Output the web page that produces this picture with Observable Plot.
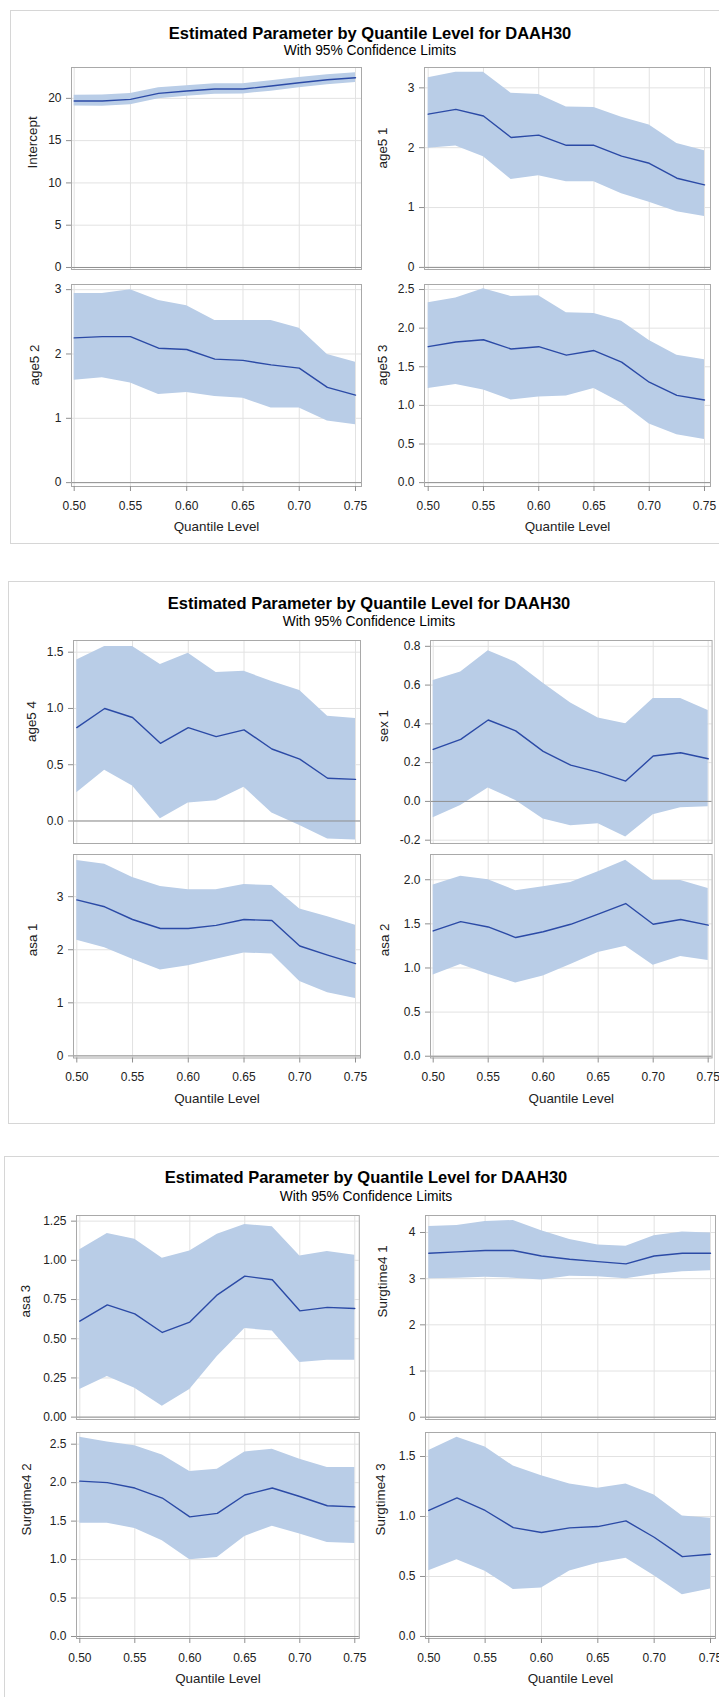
<!DOCTYPE html>
<html>
<head>
<meta charset="utf-8">
<script src="https://cdn.jsdelivr.net/npm/d3@7"></script>
<script src="https://cdn.jsdelivr.net/npm/@observablehq/plot@0.6"></script>
<style>
  html, body { margin: 0; padding: 0; background: #fff; }
  #page { position: relative; width: 719px; height: 1697px; overflow: hidden; background: #fff;
          font-family: "Liberation Sans", Arial, sans-serif; }
  .panel { position: absolute; }
</style>
</head>
<body>
<div id="page"></div>
<script>
// ---------------- data ----------------
const quantiles = [0.5, 0.525, 0.55, 0.575, 0.6, 0.625, 0.65, 0.675, 0.7, 0.725, 0.75];
const xTickValues = [0.5, 0.55, 0.6, 0.65, 0.7, 0.75];

const interceptEst = [19.69, 19.69, 19.88, 20.59, 20.87, 21.10, 21.10, 21.46, 21.85, 22.20, 22.44];
const interceptLow = [19.09, 19.08, 19.25, 19.95, 20.25, 20.50, 20.52, 20.85, 21.25, 21.62, 21.88];
const interceptHigh = [20.38, 20.40, 20.58, 21.25, 21.50, 21.72, 21.72, 22.08, 22.46, 22.80, 23.02];

const age51Est = [2.56, 2.64, 2.53, 2.17, 2.21, 2.04, 2.04, 1.86, 1.74, 1.49, 1.38];
const age51Low = [1.99, 2.03, 1.85, 1.47, 1.53, 1.43, 1.43, 1.23, 1.09, 0.93, 0.85];
const age51High = [3.17, 3.26, 3.26, 2.91, 2.89, 2.68, 2.67, 2.51, 2.38, 2.07, 1.95];

const age52Est = [2.25, 2.27, 2.27, 2.09, 2.07, 1.92, 1.90, 1.83, 1.78, 1.48, 1.36];
const age52Low = [1.59, 1.63, 1.55, 1.37, 1.40, 1.34, 1.31, 1.16, 1.16, 0.96, 0.90];
const age52High = [2.94, 2.94, 3.00, 2.83, 2.75, 2.52, 2.52, 2.52, 2.40, 1.99, 1.87];

const age53Est = [1.76, 1.82, 1.85, 1.73, 1.76, 1.65, 1.71, 1.56, 1.30, 1.13, 1.07];
const age53Low = [1.22, 1.27, 1.20, 1.07, 1.11, 1.12, 1.22, 1.03, 0.76, 0.62, 0.56];
const age53High = [2.33, 2.39, 2.51, 2.41, 2.42, 2.20, 2.19, 2.09, 1.84, 1.65, 1.59];

const age54Est = [0.83, 1.00, 0.92, 0.69, 0.83, 0.75, 0.81, 0.64, 0.55, 0.38, 0.37];
const age54Low = [0.25, 0.45, 0.31, 0.02, 0.16, 0.18, 0.30, 0.07, -0.04, -0.16, -0.17];
const age54High = [1.43, 1.55, 1.55, 1.39, 1.49, 1.32, 1.33, 1.24, 1.16, 0.93, 0.91];

const sex1Est = [0.268, 0.320, 0.420, 0.364, 0.258, 0.187, 0.151, 0.105, 0.234, 0.251, 0.220];
const sex1Low = [-0.084, -0.021, 0.069, 0.005, -0.091, -0.125, -0.115, -0.184, -0.069, -0.033, -0.027];
const sex1High = [0.624, 0.667, 0.777, 0.718, 0.610, 0.507, 0.430, 0.400, 0.531, 0.531, 0.469];

const asa1Est = [2.94, 2.81, 2.57, 2.40, 2.40, 2.46, 2.57, 2.55, 2.07, 1.90, 1.74];
const asa1Low = [2.18, 2.04, 1.82, 1.62, 1.70, 1.82, 1.94, 1.92, 1.40, 1.19, 1.08];
const asa1High = [3.68, 3.61, 3.36, 3.19, 3.13, 3.13, 3.23, 3.21, 2.77, 2.62, 2.46];

const asa2Est = [1.42, 1.525, 1.465, 1.345, 1.41, 1.495, 1.61, 1.73, 1.495, 1.55, 1.485];
const asa2Low = [0.92, 1.04, 0.93, 0.83, 0.91, 1.04, 1.175, 1.247, 1.03, 1.13, 1.085];
const asa2High = [1.94, 2.04, 2.00, 1.876, 1.92, 1.97, 2.09, 2.22, 1.99, 1.99, 1.90];

const asa3Est = [0.612, 0.716, 0.659, 0.540, 0.606, 0.780, 0.899, 0.876, 0.678, 0.700, 0.693];
const asa3Low = [0.176, 0.259, 0.185, 0.070, 0.176, 0.387, 0.565, 0.550, 0.349, 0.363, 0.363];
const asa3High = [1.067, 1.171, 1.135, 1.014, 1.059, 1.167, 1.229, 1.214, 1.027, 1.057, 1.033];

const surg1Est = [3.55, 3.58, 3.61, 3.61, 3.49, 3.42, 3.37, 3.32, 3.49, 3.55, 3.55];
const surg1Low = [3.00, 3.01, 3.03, 3.01, 2.97, 3.05, 3.04, 3.00, 3.09, 3.15, 3.17];
const surg1High = [4.13, 4.15, 4.24, 4.26, 4.04, 3.85, 3.73, 3.70, 3.93, 4.01, 3.99];

const surg2Est = [2.02, 2.00, 1.93, 1.80, 1.555, 1.60, 1.84, 1.93, 1.82, 1.70, 1.685];
const surg2Low = [1.473, 1.473, 1.404, 1.244, 0.997, 1.027, 1.30, 1.434, 1.334, 1.222, 1.209];
const surg2High = [2.59, 2.53, 2.48, 2.36, 2.145, 2.175, 2.40, 2.435, 2.305, 2.197, 2.197];

const surg3Est = [1.05, 1.155, 1.05, 0.907, 0.866, 0.905, 0.916, 0.963, 0.827, 0.665, 0.685];
const surg3Low = [0.548, 0.64, 0.543, 0.392, 0.404, 0.545, 0.61, 0.651, 0.506, 0.348, 0.395];
const surg3High = [1.55, 1.66, 1.58, 1.42, 1.34, 1.27, 1.236, 1.27, 1.18, 1.005, 0.985];

const titleText = "Estimated Parameter by Quantile Level for DAAH30";
const subtitleText = "With 95% Confidence Limits";
const xLabelText = "Quantile Level";

// ---------------- layout ----------------
const FONT = '"Liberation Sans", Arial, sans-serif';
const groups = [
  { box: [10.5, 10.5, 720, 533], titleX: 370, titleY: 38.5, subY: 55,
    rows: [[67, 269], [284, 486]],
    cols: [{L: 71, x0: 73.7, x1: 355, R: 361}, {L: 424, x0: 427.7, x1: 704, R: 710}] },
  { box: [8.5, 581.5, 706, 542], titleX: 369, titleY: 609.3, subY: 626,
    rows: [[640, 843], [854, 1057.5]],
    cols: [{L: 73, x0: 76.3, x1: 355, R: 360}, {L: 430, x0: 432.7, x1: 707.7, R: 711.6}] },
  { box: [4.5, 1156.5, 730, 560], titleX: 366, titleY: 1183.3, subY: 1200.7,
    rows: [[1215, 1419], [1432, 1638]],
    cols: [{L: 75.7, x0: 79, x1: 354, R: 358.5}, {L: 425, x0: 428.3, x1: 710, R: 715}] }
];

const f0 = d => d.toFixed(0), f1 = d => d.toFixed(1), f2 = d => d.toFixed(2);

const panels = [
  {label: "Intercept", est: interceptEst, lo: interceptLow, hi: interceptHigh, g: 0, r: 0, c: 0, domain: [-0.24, 23.65], ticks: [0, 5, 10, 15, 20], fmt: f0, off: 44.3},
  {label: "age5 1", est: age51Est, lo: age51Low, hi: age51High, g: 0, r: 0, c: 1, domain: [-0.035, 3.34], ticks: [0, 1, 2, 3], fmt: f0, off: 47.3},
  {label: "age5 2", est: age52Est, lo: age52Low, hi: age52High, g: 0, r: 1, c: 0, domain: [-0.06, 3.08], ticks: [0, 1, 2, 3], fmt: f0, off: 41.7},
  {label: "age5 3", est: age53Est, lo: age53Low, hi: age53High, g: 0, r: 1, c: 1, domain: [-0.05, 2.565], ticks: [0, 0.5, 1, 1.5, 2, 2.5], fmt: f1, off: 46.7},
  {label: "age5 4", est: age54Est, lo: age54Low, hi: age54High, g: 1, r: 0, c: 0, domain: [-0.2, 1.604], ticks: [0, 0.5, 1, 1.5], fmt: f1, off: 47},
  {label: "sex 1", est: sex1Est, lo: sex1Low, hi: sex1High, g: 1, r: 0, c: 1, domain: [-0.217, 0.83], ticks: [-0.2, 0, 0.2, 0.4, 0.6, 0.8], fmt: f1, off: 51.7},
  {label: "asa 1", est: asa1Est, lo: asa1Low, hi: asa1High, g: 1, r: 1, c: 0, domain: [-0.04, 3.795], ticks: [0, 1, 2, 3], fmt: f0, off: 46},
  {label: "asa 2", est: asa2Est, lo: asa2Low, hi: asa2High, g: 1, r: 1, c: 1, domain: [-0.02, 2.286], ticks: [0, 0.5, 1, 1.5, 2], fmt: f1, off: 50.7},
  {label: "asa 3", est: asa3Est, lo: asa3Low, hi: asa3High, g: 2, r: 0, c: 0, domain: [-0.015, 1.286], ticks: [0, 0.25, 0.5, 0.75, 1, 1.25], fmt: f2, off: 55.7},
  {label: "Surgtime4 1", est: surg1Est, lo: surg1Low, hi: surg1High, g: 2, r: 0, c: 1, domain: [-0.05, 4.368], ticks: [0, 1, 2, 3, 4], fmt: f0, off: 48.3},
  {label: "Surgtime4 2", est: surg2Est, lo: surg2Low, hi: surg2High, g: 2, r: 1, c: 0, domain: [-0.026, 2.652], ticks: [0, 0.5, 1, 1.5, 2, 2.5], fmt: f1, off: 55},
  {label: "Surgtime4 3", est: surg3Est, lo: surg3Low, hi: surg3High, g: 2, r: 1, c: 1, domain: [-0.017, 1.70], ticks: [0, 0.5, 1, 1.5], fmt: f1, off: 50}
];

// ---------------- background: boxes and titles ----------------
const page = d3.select("#page");
const bg = page.append("svg")
  .attr("width", 719).attr("height", 1697)
  .style("position", "absolute").style("left", "0px").style("top", "0px");
groups.forEach(g => {
  bg.append("rect").attr("x", g.box[0]).attr("y", g.box[1]).attr("width", g.box[2]).attr("height", g.box[3])
    .attr("fill", "none").attr("stroke", "#d6d6d6").attr("stroke-width", 1);
  bg.append("text").attr("x", g.titleX).attr("y", g.titleY).attr("text-anchor", "middle")
    .attr("font-family", FONT).attr("font-weight", "bold").attr("font-size", 16.5).attr("fill", "#000")
    .text(titleText);
  bg.append("text").attr("x", g.titleX).attr("y", g.subY).attr("text-anchor", "middle")
    .attr("font-family", FONT).attr("font-size", 13.8).attr("fill", "#000")
    .text(subtitleText);
});

// ---------------- panels ----------------
panels.forEach(p => {
  const grp = groups[p.g];
  const [T, B] = grp.rows[p.r];
  const col = grp.cols[p.c];
  const bottomRow = p.r === 1;
  const mL = 75, mR = 8, mT = 6, mB = bottomRow ? 56 : 6;
  const width = mL + (col.R - col.L) + mR;
  const height = mT + (B - T) + mB;
  const data = quantiles.map((q, i) => ({q, est: p.est[i], lo: p.lo[i], hi: p.hi[i]}));

  const marks = [
    Plot.gridX(xTickValues, {stroke: "#e2e2e2", strokeOpacity: 1}),
    Plot.gridY(p.ticks, {stroke: "#e2e2e2", strokeOpacity: 1}),
    Plot.areaY(data, {x: "q", y1: "lo", y2: "hi", fill: "#b9cde7", fillOpacity: 1}),
    Plot.ruleY([0], {stroke: "#8f8f8f", strokeWidth: 1}),
    Plot.lineY(data, {x: "q", y: "est", stroke: "#2b4aa6", strokeWidth: 1.4}),
    Plot.frame({stroke: "#a9a9a9", strokeWidth: 1}),
    Plot.axisY(p.ticks, {tickFormat: p.fmt, tickSize: 5, tickPadding: 5, stroke: "#8f8f8f", fill: "#222",
      fontSize: 12, label: null}),
    Plot.text([p.label], {text: d => d, frameAnchor: "left", rotate: -90, dx: -p.off, lineAnchor: "top",
      fontSize: 13.4, fill: "#222"})
  ];
  if (bottomRow) {
    marks.push(
      Plot.axisX(xTickValues, {tickFormat: f2, tickSize: 5, tickPadding: 9.5, stroke: "#8f8f8f", fill: "#222",
        fontSize: 12, label: null}),
      Plot.text([xLabelText], {text: d => d, frameAnchor: "bottom", dy: 35, lineAnchor: "top",
        fontSize: 13.4, fill: "#222"})
    );
  }

  const chart = Plot.plot({
    width, height,
    marginLeft: mL, marginRight: mR, marginTop: mT, marginBottom: mB,
    style: {background: "transparent", overflow: "visible", fontFamily: FONT, fontSize: "12px", color: "#222"},
    x: {domain: [0.5, 0.75], insetLeft: col.x0 - col.L, insetRight: col.R - col.x1, axis: bottomRow ? undefined : null},
    y: {domain: p.domain},
    marks
  });

  const div = page.append("div").attr("class", "panel")
    .style("left", (col.L - mL) + "px").style("top", (T - mT) + "px")
    .style("width", width + "px").style("height", height + "px");
  div.node().appendChild(chart);
});
</script>
</body>
</html>
